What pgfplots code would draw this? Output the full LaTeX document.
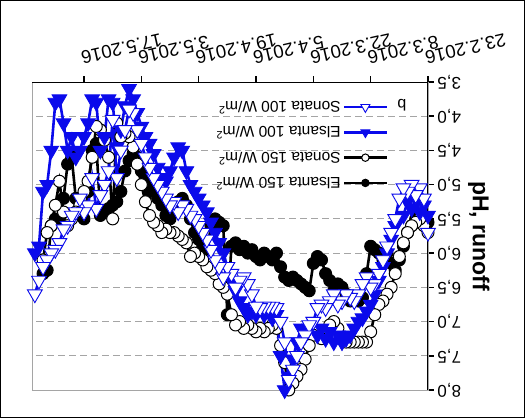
\documentclass[border=0pt]{standalone}
\usepackage{pgfplots}
\usepackage{pgfplotstable}
\pgfplotsset{compat=1.18}
\usepackage{fontspec}
\setmainfont{Liberation Sans}
\definecolor{serblue}{RGB}{10,10,235}
\definecolor{gridgray}{RGB}{165,165,165}

% day = days since 23.2.2016
\pgfplotstableread{
day pH
0 5.55
1 5.5
2 5.45
3 5.5
4 5.6
5 5.7
6 5.9
7 6.1
8 6.25
9 6.15
10 6.0
11 6.1
12 6.0
13 5.95
14 5.9
15 6.3
16 6.65
17 6.7
18 6.65
19 6.7
20 6.6
21 6.5
22 6.45
23 6.55
24 6.4
25 6.3
26 6.1
27 6.05
28 6.15
29 6.55
30 6.5
31 6.45
32 6.4
33 6.35
34 6.4
35 6.35
36 6.2
37 6.0
38 6.1
39 6.05
40 6.0
41 6.1
42 6.05
43 5.95
44 6.0
45 5.9
46 5.95
47 5.85
48 5.9
49 6.9
50 5.6
51 5.55
52 5.5
53 5.6
54 6.0
55 5.9
56 5.8
57 5.7
58 5.5
59 5.3
60 5.2
61 5.25
62 5.4
63 5.5
64 5.45
65 5.3
66 5.2
67 5.0
68 5.1
69 4.95
70 4.8
71 4.6
72 4.55
73 4.65
74 4.8
75 5.1
76 5.25
77 5.3
78 5.35
79 5.4
80 5.45
81 4.4
82 4.5
83 5.1
84 5.5
85 5.3
86 5.2
87 4.6
88 4.7
89 5.2
90 5.5
91 5.5
92 5.6
93 6.25
94 6.3
}\elsantaA

\pgfplotstableread{
day pH
0 5.7
1 5.6
2 5.5
3 5.55
4 5.6
5 5.7
6 5.85
7 6.05
8 6.3
9 6.5
10 6.6
11 6.7
12 6.75
13 6.9
14 7.15
15 7.3
16 7.3
17 7.3
18 7.3
19 7.3
20 7.3
21 7.25
22 7.1
23 7.0
24 7.05
25 7.2
26 7.25
27 7.15
28 7.2
29 7.35
30 7.55
31 7.7
32 7.8
33 7.9
34 8.0
35 7.6
36 7.35
37 7.1
38 7.05
39 7.1
40 7.15
41 7.1
42 7.15
43 7.1
44 7.05
45 7.1
46 7.0
47 7.05
48 6.9
49 6.6
50 6.5
51 6.45
52 6.3
53 6.25
54 6.2
55 6.1
56 6.05
57 6.0
58 6.05
59 5.85
60 5.8
61 5.75
62 5.7
63 5.7
64 5.65
65 5.7
66 5.6
67 5.55
68 5.45
69 5.25
70 5.0
71 4.7
72 4.45
73 4.3
74 4.25
75 4.3
76 4.1
77 5.5
78 4.6
79 4.35
80 4.2
81 4.15
82 4.6
83 4.95
84 5.1
85 5.3
86 5.4
87 5.5
88 5.6
89 5.4
90 4.95
91 5.3
92 5.6
93 5.7
94 6.1
}\sonataA

\pgfplotstableread{
day pH
0 5.45
1 5.3
2 5.4
3 5.2
4 5.35
5 5.25
6 5.45
7 5.5
8 5.6
9 5.8
10 6.0
11 6.2
12 6.4
13 6.6
14 6.75
15 6.85
16 6.95
17 7.0
18 7.1
19 7.2
20 7.25
21 7.3
22 7.2
23 7.3
24 7.15
25 7.25
26 7.1
27 7.2
28 7.0
29 7.1
30 7.2
31 7.1
32 7.3
33 7.55
34 7.8
35 8.0
36 7.5
37 6.9
38 6.95
39 6.85
40 6.9
41 6.8
42 6.9
43 6.85
44 6.9
45 6.8
46 6.7
47 6.55
48 6.4
49 6.2
50 6.0
51 5.85
52 5.7
53 5.55
54 5.4
55 5.3
56 5.2
57 5.1
58 5.0
59 4.8
60 4.5
61 4.45
62 4.6
63 4.8
64 4.95
65 4.9
66 4.75
67 4.55
68 4.4
69 4.3
70 4.15
71 3.95
72 3.75
73 3.6
74 3.85
75 4.2
76 4.45
77 3.8
78 3.75
79 4.3
80 4.5
81 3.8
82 3.75
83 4.1
84 4.3
85 4.5
86 4.6
87 4.3
88 4.5
89 4.1
90 3.75
91 3.8
92 4.5
93 5.0
94 5.1
95 5.9
96 6.0
}\elsantaB

\pgfplotstableread{
day pH
0 5.7
1 5.2
2 5.05
3 5.15
4 5.0
5 5.1
6 5.05
7 5.2
8 5.5
9 5.7
10 5.9
11 6.1
12 6.3
13 6.45
14 6.5
15 6.35
16 6.45
17 6.6
18 6.7
19 6.65
20 6.6
21 6.7
22 6.75
23 6.6
24 6.7
25 6.8
26 6.75
27 6.8
28 7.0
29 7.05
30 7.2
31 7.3
32 7.5
33 7.7
34 7.85
35 7.3
36 7.0
37 6.8
38 6.78
39 6.78
40 6.78
41 6.8
42 6.78
43 6.6
44 6.45
45 6.35
46 6.4
47 6.5
48 6.3
49 6.2
50 6.35
51 6.2
52 6.1
53 5.95
54 5.8
55 5.7
56 5.6
57 5.5
58 5.45
59 5.35
60 5.3
61 5.4
62 5.25
63 5.3
64 5.2
65 5.1
66 5.0
67 4.9
68 4.75
69 4.6
70 4.4
71 4.2
72 3.95
73 3.9
74 4.2
75 4.5
76 4.9
77 4.05
78 4.8
79 5.0
80 5.15
81 5.35
82 4.9
83 5.3
84 5.4
85 5.2
86 5.4
87 5.45
88 5.6
89 5.65
90 5.85
91 5.95
92 6.0
93 6.1
94 6.2
95 6.4
96 6.6
}\sonataB

\begin{document}
\rotatebox{180}{%
\begin{tikzpicture}
\useasboundingbox (0bp,0bp) rectangle (525bp,418bp);
\draw[black, line width=1bp] (0.5bp,0.5bp) rectangle (524.5bp,417.5bp);
\begin{axis}[
  at={(97bp,82bp)}, anchor=south west,
  scale only axis, width=396bp, height=308bp,
  xmin=0, xmax=96.7, ymin=3.5, ymax=8,
  xtick={0,14,28,42,56,70,84},
  xticklabels={23.2.2016,8.3.2016,22.3.2016,5.4.2016,19.4.2016,3.5.2016,17.5.2016},
  ytick={3.5,4,4.5,5,5.5,6,6.5,7,7.5,8},
  /pgf/number format/use comma,
  /pgf/number format/fixed,
  /pgf/number format/fixed zerofill,
  /pgf/number format/precision=1,
  /pgf/number format/assume math mode=true,
  xtick pos=bottom, ytick pos=left,
  tick align=outside,
  major tick length=6bp,
  tick style={black, line width=1.5bp},
  axis line style={gridgray, line width=0.8bp},
  ymajorgrids,
  major grid style={gridgray, dash pattern=on 7bp off 4bp, line width=0.8bp},
  yticklabel style={font=\fontsize{17bp}{20bp}\selectfont},
  xticklabel style={font=\fontsize{18.5bp}{21bp}\selectfont, rotate=13, anchor=north east, yshift=-8bp, xshift=2bp},
  ylabel={pH, runoff},
  ylabel style={font=\bfseries\fontsize{23bp}{27bp}\selectfont},
  legend cell align=left,
  legend style={at={(0.1,0.358)}, anchor=north west, draw=none, fill=none,
    font=\fontsize{15.5bp}{18bp}\selectfont, row sep=7bp, inner sep=0pt},
  legend image code/.code={%
    \draw[mark repeat=2, mark phase=2, #1, every mark/.append style={scale=0.62}]
      plot coordinates {(0bp,0bp) (21.5bp,0bp) (43bp,0bp)};},
  every axis plot/.append style={line width=2.6bp},
]
\addplot[black, mark=*, mark size=6bp, mark options={fill=black, line width=1bp}]
  table[x=day, y=pH] {\elsantaA};
\addlegendentry{Elsanta 150 W/m\textsuperscript{2}}
\addplot[black, mark=*, mark size=6bp, mark options={fill=white, draw=black, line width=1bp}]
  table[x=day, y=pH] {\sonataA};
\addlegendentry{Sonata 150 W/m\textsuperscript{2}}
\addplot[serblue, mark=triangle*, mark size=8.5bp, mark options={fill=serblue, draw=serblue, line width=0.8bp}]
  table[x=day, y=pH] {\elsantaB};
\addlegendentry{Elsanta 100 W/m\textsuperscript{2}}
\addplot[serblue, mark=triangle*, mark size=8.5bp, mark options={fill=white, draw=serblue, line width=0.9bp}]
  table[x=day, y=pH] {\sonataB};
\addlegendentry{Sonata 100 W/m\textsuperscript{2}}
\draw[black, line width=2.5bp] (rel axis cs:0,1) -- (rel axis cs:0,0) -- (rel axis cs:1,0);
\node[font=\fontsize{16bp}{19bp}\selectfont] at (rel axis cs:0.066,0.075) {b};
\end{axis}
\end{tikzpicture}}
\end{document}
